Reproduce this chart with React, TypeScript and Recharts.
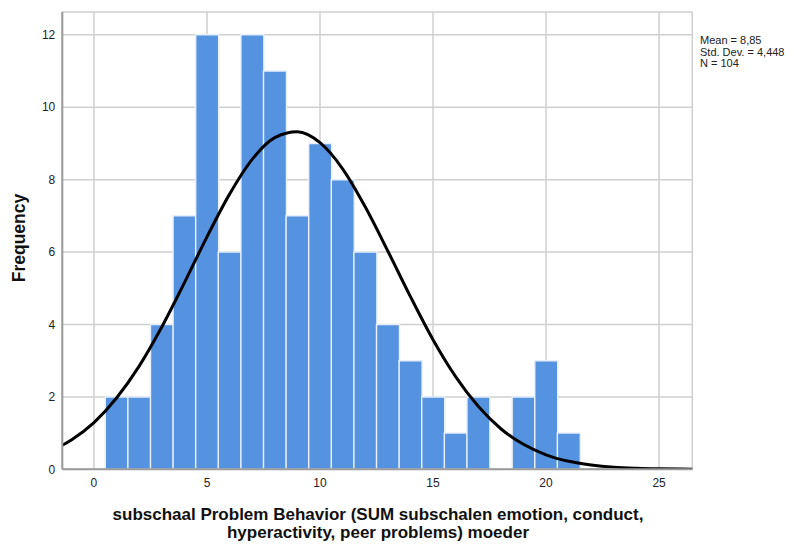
import React from 'react';
import { ComposedChart, Bar, Line, XAxis, YAxis, CartesianGrid } from 'recharts';

const binCenters = [1, 2, 3, 4, 5, 6, 7, 8, 9, 10, 11, 12, 13, 14, 15, 16, 17, 18, 19, 20, 21];
const frequencies = [2, 2, 4, 7, 12, 6, 12, 11, 7, 9, 8, 6, 4, 3, 2, 1, 2, 0, 2, 3, 1];
const curveX = [-2, -1, 0, 1, 2, 3, 4, 5, 6, 7, 8, 9, 10, 11, 12, 13, 14, 15, 16, 17, 18, 19, 20, 21, 22, 23, 24, 25, 26, 27];
const curveY = [0.48, 0.81, 1.29, 1.97, 2.85, 3.93, 5.15, 6.42, 7.6, 8.56, 9.16, 9.32, 9.02, 8.3, 7.25, 6.03, 4.77, 3.58, 2.56, 1.74, 1.12, 0.69, 0.4, 0.22, 0.12, 0.06, 0.03, 0.013, 0.005, 0.002];
const xTicks = [0, 5, 10, 15, 20, 25];
const yTicks = [0, 2, 4, 6, 8, 10, 12];
const statsLines = ['Mean = 8,85', 'Std. Dev. = 4,448', 'N = 104'];
const xTitle = ['subschaal Problem Behavior (SUM subschalen emotion, conduct,', 'hyperactivity, peer problems) moeder'];
const yTitle = 'Frequency';

const data = curveX.map((x, i) => {
  const idx = binCenters.indexOf(x);
  return { x, curve: curveY[i], freq: idx >= 0 ? frequencies[idx] : undefined };
});

const FONT = "'Liberation Sans', Arial, sans-serif";

export default function App() {
  return (
    <div style={{ position: 'absolute', left: 0, top: 0, width: 794, height: 546, background: '#fff' }}>
      <ComposedChart
        width={794}
        height={546}
        data={data}
        margin={{ top: 12, right: 101.7, bottom: 46.7, left: 0 }}
        barCategoryGap={0}
        barGap={0}
      >
        <CartesianGrid stroke="#cfcfcf" strokeWidth={1.5} />
        <XAxis
          dataKey="x"
          type="number"
          domain={[-1.4, 26.47]}
          allowDataOverflow
          ticks={xTicks}
          height={30}
          tickLine={false}
          tickSize={6}
          tickMargin={3}
          axisLine={{ stroke: '#9a9a9a', strokeWidth: 2 }}
          tick={{ fill: '#222', fontSize: 12, fontFamily: FONT }}
          label={{
            content: () => (
              <text textAnchor="middle" fontFamily={FONT} fontWeight="bold" fontSize={17} fill="#111">
                <tspan x={378} y={519.5}>{xTitle[0]}</tspan>
                <tspan x={378} y={538}>{xTitle[1]}</tspan>
              </text>
            ),
          }}
        />
        <YAxis
          type="number"
          domain={[0, 12.63]}
          allowDataOverflow
          ticks={yTicks}
          width={62.3}
          tickLine={false}
          tickSize={5}
          tickMargin={2}
          axisLine={{ stroke: '#9a9a9a', strokeWidth: 2 }}
          tick={{ fill: '#222', fontSize: 12, fontFamily: FONT }}
          label={{
            content: () => (
              <text
                x={25}
                y={238}
                transform="rotate(-90 25 238)"
                textAnchor="middle"
                fontFamily={FONT}
                fontWeight="bold"
                fontSize={17.5}
                fill="#111"
              >
                {yTitle}
              </text>
            ),
          }}
        />
        <Bar dataKey="freq" fill="#5592e0" stroke="#e6effb" strokeWidth={1.5} isAnimationActive={false} />
        <Line
          dataKey="curve"
          type="monotone"
          stroke="#000"
          strokeWidth={3}
          dot={false}
          activeDot={false}
          isAnimationActive={false}
        />
      </ComposedChart>
      <div
        style={{
          position: 'absolute',
          left: 700,
          top: 35,
          fontFamily: FONT,
          fontSize: 11,
          lineHeight: '11.7px',
          color: '#222',
          whiteSpace: 'nowrap',
        }}
      >
        {statsLines.map((s) => (
          <div key={s}>{s}</div>
        ))}
      </div>
    </div>
  );
}
